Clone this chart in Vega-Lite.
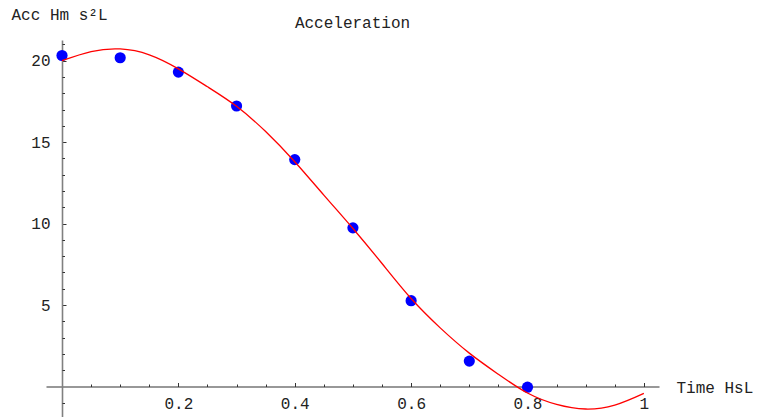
{
  "$schema": "https://vega.github.io/schema/vega-lite/v6.json",
  "width": 613,
  "height": 377,
  "autosize": {"type": "none"},
  "padding": {"left": 46, "top": 40, "right": 98, "bottom": 0},
  "background": "white",
  "config": {
    "view": {"stroke": null},
    "font": "Liberation Mono",
    "axis": {
      "grid": false,
      "labelFont": "Liberation Mono",
      "titleFont": "Liberation Mono",
      "labelFontSize": 16,
      "titleFontSize": 16,
      "titleFontWeight": "normal",
      "labelColor": "#222222",
      "titleColor": "#222222",
      "tickColor": "#333333",
      "tickWidth": 1,
      "labelFlush": false,
      "labelOverlap": false
    }
  },
  "title": {
    "text": "Acceleration",
    "font": "Liberation Mono",
    "fontSize": 16,
    "fontWeight": "normal",
    "color": "#222222",
    "anchor": "middle",
    "frame": "group",
    "baseline": "alphabetic",
    "offset": -37
  },
  "datasets": {
    "pts": [
      {"t": 0.0, "a": 20.32},
      {"t": 0.1, "a": 20.18},
      {"t": 0.2, "a": 19.3},
      {"t": 0.3, "a": 17.22},
      {"t": 0.4, "a": 13.93},
      {"t": 0.5, "a": 9.74},
      {"t": 0.6, "a": 5.27},
      {"t": 0.7, "a": 1.56},
      {"t": 0.8, "a": -0.04}
    ],
    "fit": [
      {"t": 0.0, "a": 20.0},
      {"t": 0.05, "a": 20.56},
      {"t": 0.1, "a": 20.72},
      {"t": 0.15, "a": 20.36},
      {"t": 0.2, "a": 19.5},
      {"t": 0.25, "a": 18.4},
      {"t": 0.3, "a": 17.2},
      {"t": 0.35, "a": 15.65},
      {"t": 0.4, "a": 13.8},
      {"t": 0.45, "a": 11.75},
      {"t": 0.5, "a": 9.7},
      {"t": 0.55, "a": 7.55},
      {"t": 0.6, "a": 5.4},
      {"t": 0.65, "a": 3.6},
      {"t": 0.7, "a": 2.05},
      {"t": 0.75, "a": 0.75},
      {"t": 0.8, "a": -0.4},
      {"t": 0.85, "a": -1.1},
      {"t": 0.9, "a": -1.38},
      {"t": 0.95, "a": -1.14},
      {"t": 1.0, "a": -0.42}
    ]
  },
  "layer": [
    {
      "data": {"name": "pts"},
      "mark": {"type": "circle", "size": 125, "color": "#0000ff", "opacity": 1},
      "encoding": {
        "x": {
          "field": "t",
          "type": "quantitative",
          "scale": {"domain": [-0.0275, 1.026], "nice": false, "zero": false},
          "axis": {
            "orient": "bottom",
            "offset": -30.5,
            "values": [0.2, 0.4, 0.6, 0.8, 1],
            "format": "~g",
            "tickSize": -4,
            "labelPadding": 12.5,
            "labelBaseline": "top",
            "domainColor": "#333333",
            "domainWidth": 1.2,
            "title": "Time HsL",
            "titleX": 630,
            "titleY": 5.5,
            "titleAlign": "left",
            "titleBaseline": "alphabetic",
            "titleAngle": 0
          }
        },
        "y": {
          "field": "a",
          "type": "quantitative",
          "scale": {"domain": [-1.87, 21.27], "nice": false, "zero": false},
          "axis": {
            "orient": "left",
            "offset": -16,
            "values": [5, 10, 15, 20],
            "format": "d",
            "tickSize": -4,
            "labelPadding": 16,
            "labelBaseline": "middle",
            "labelAlign": "right",
            "domainColor": "#808080",
            "domainWidth": 1.6,
            "title": "Acc Hm s²L",
            "titleX": -51,
            "titleY": -20.5,
            "titleAlign": "left",
            "titleBaseline": "alphabetic",
            "titleAngle": 0
          }
        }
      }
    },
    {
      "data": {"name": "fit"},
      "mark": {"type": "line", "color": "#ff0000", "strokeWidth": 1.3, "interpolate": "natural"},
      "encoding": {
        "x": {
          "field": "t",
          "type": "quantitative",
          "axis": {
            "orient": "bottom",
            "offset": -30.5,
            "values": [0.05, 0.1, 0.15, 0.25, 0.3, 0.35, 0.45, 0.5, 0.55, 0.65, 0.7, 0.75, 0.85, 0.9, 0.95],
            "tickSize": -2.5,
            "labels": false,
            "domain": false,
            "title": null
          }
        },
        "y": {
          "field": "a",
          "type": "quantitative",
          "axis": {
            "orient": "left",
            "offset": -16,
            "values": [-1, 1, 2, 3, 4, 6, 7, 8, 9, 11, 12, 13, 14, 16, 17, 18, 19, 21],
            "tickSize": -2.5,
            "labels": false,
            "domain": false,
            "title": null
          }
        }
      }
    }
  ],
  "resolve": {"axis": {"x": "independent", "y": "independent"}}
}
